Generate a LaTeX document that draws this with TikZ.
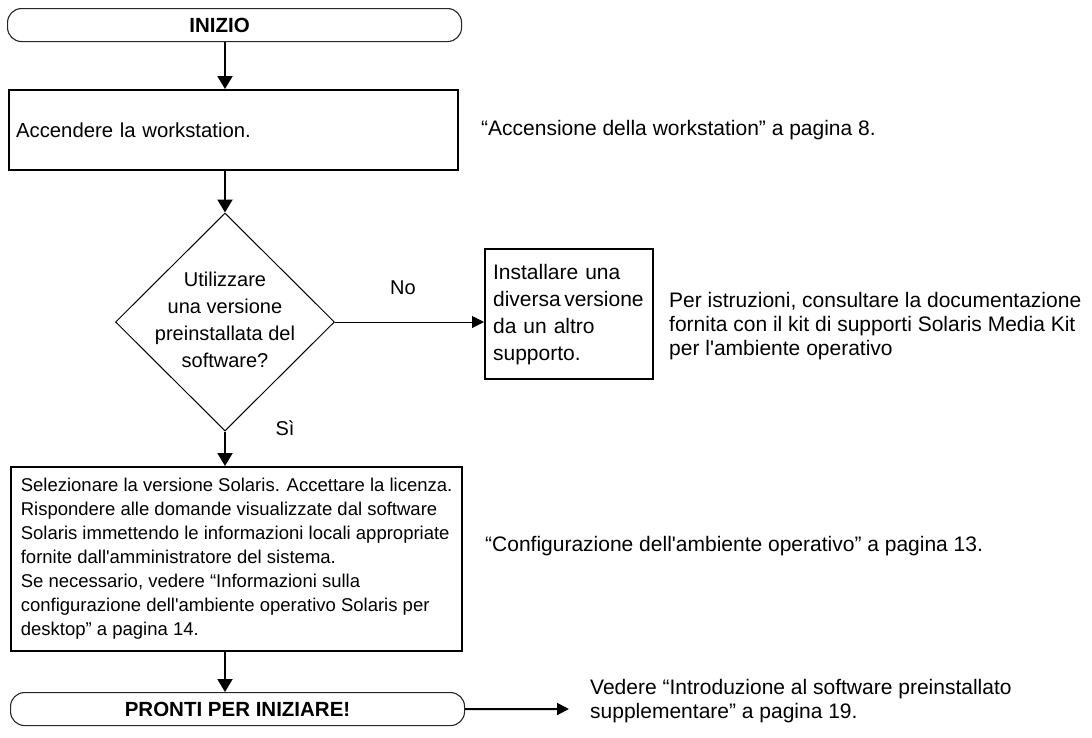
\documentclass[tikz,border=0pt]{standalone}
\usepackage{fontspec}
\setmainfont{Liberation Sans}[Ligatures=TeXOff]
\usetikzlibrary{arrows.meta,shapes.geometric}
\begin{document}
\begin{tikzpicture}[x=1pt,y=-1pt,
  term/.style={draw=black!85, line width=1.1pt, rounded corners=14pt, inner sep=0pt,
    anchor=north west, minimum height=33pt, font=\bfseries\fontsize{20.5}{24}\selectfont},
  stepbox/.style={draw, line width=2.2pt, anchor=north west, align=left, inner ysep=0pt},
  dec/.style={diamond, aspect=1, draw, line width=1pt, inner sep=0pt},
  dtext/.style={align=center, inner sep=0pt, font=\fontsize{20}{27}\selectfont},
  side/.style={anchor=west, align=left, inner sep=0pt, font=\fontsize{21}{24}\selectfont},
  lbl/.style={inner sep=0pt, font=\fontsize{20}{24}\selectfont},
  arr/.style={line width=2pt, -{Triangle[width=15pt,length=13pt]}},
  thinarr/.style={line width=1pt, -{Triangle[width=12pt,length=12pt]}},
  endarr/.style={line width=2pt, -{Triangle[width=12pt,length=12pt]}}]
\useasboundingbox (0,0) rectangle (1092,737);

% nodes
\node[term, minimum width=454pt] (ini) at (7,8) {INIZIO\hspace*{30pt}};
\node[stepbox, minimum width=449pt, minimum height=80pt, text width=435pt, inner xsep=7pt,
  font=\fontsize{20.3}{24}\selectfont] (b1) at (8,89) {Accendere la workstation.};
\node[dec, minimum width=219pt, minimum height=218pt] (d) at (225,322) {};
\node[dtext] (dt) at ([yshift=2pt]d.center) {Utilizzare\\una versione\\preinstallata del\\software?};
\node[stepbox, minimum width=168pt, minimum height=130pt, text width=152pt, inner xsep=8pt,
  font=\fontsize{21}{27}\selectfont] (sb) at (484,248)
  {Installare una\\diversa\,versione\\da un altro\\supporto.};
\node[stepbox, minimum width=451pt, minimum height=184pt, inner xsep=9pt,
  font=\fontsize{18.5}{24}\selectfont] (b3) at (10,466)
  {Selezionare la versione Solaris. Accettare la licenza.\\
   Rispondere alle domande visualizzate dal software\\
   Solaris immettendo le informazioni locali appropriate\\
   fornite dall'amministratore del sistema.\\
   Se necessario, vedere “Informazioni sulla\\
   configurazione dell'ambiente operativo Solaris per\\
   desktop” a pagina 14.};
\node[term, minimum width=454pt] (fin) at (10,692) {PRONTI PER INIZIARE!};

% side texts
\node[side] (s1) at (481,130) {“Accensione della workstation” a pagina 8.};
\node[side] (s2) at (669,326) {Per istruzioni, consultare la documentazione\\fornita con il kit di supporti Solaris Media Kit\\per l'ambiente operativo};
\node[side] (s3) at (485,546) {“Configurazione dell'ambiente operativo” a pagina 13.};
\node[side] (s4) at (590,701) {Vedere “Introduzione al software preinstallato\\supplementare” a pagina 19.};

% labels
\node[lbl] (no) at (403,288) {No};
\node[lbl] (si) at (285,428) {Sì};

% connectors
\draw[arr] (ini.south -| d.north) -- (b1.north -| d.north);
\draw[arr] (b1.south -| d.north) -- (d.north);
\draw[thinarr] (d.east) -- (d.east -| sb.west);
\draw[arr] (d.south) -- (b3.north -| d.south);
\draw[arr] (b3.south -| d.south) -- (fin.north -| d.south);
\coordinate (e4) at (569,709);
\draw[endarr] (fin.east) -- (e4);
\end{tikzpicture}
\end{document}
